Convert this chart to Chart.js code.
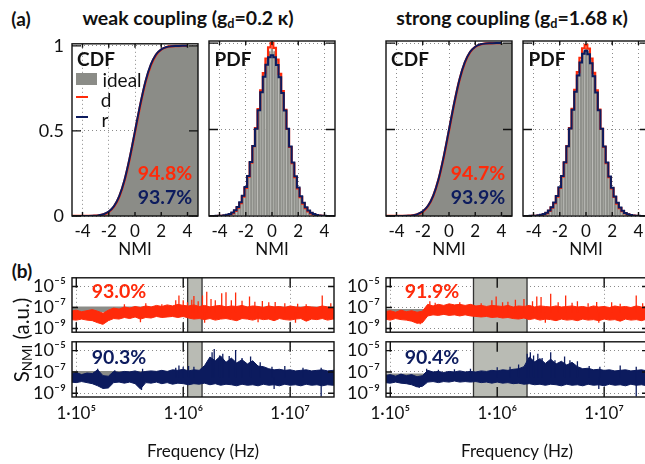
<!DOCTYPE html>
<html>
<head>
<meta charset="utf-8">
<script src="https://cdn.jsdelivr.net/npm/chart.js@4.4.1/dist/chart.umd.min.js"></script>
<style>
  html, body { margin: 0; padding: 0; background: #fff; overflow: hidden; }
  body { width: 645px; height: 464px; position: relative; font-family: Lato, 'Noto Sans', sans-serif; color: #111; }
  canvas { position: absolute; }
  .c { position: absolute; white-space: nowrap; line-height: 1; transform: translate(-50%, -50%); }
  .b { font-weight: bold; }
  .red { color: #ff2a0a; }
  .navy { color: #0c1b5e; }
  sub { font-size: 65%; vertical-align: -0.25em; line-height: 0; }
  .key { position: absolute; }
</style>
</head>
<body>
<div class="c b" style="left:21px;top:18px;font-size:19px">(a)</div>
<div class="c b" style="left:188px;top:18px;font-size:19.5px">weak coupling (g<sub>d</sub>=0.2 κ)</div>
<div class="c b" style="left:512px;top:18px;font-size:19.5px">strong coupling (g<sub>d</sub>=1.68 κ)</div>
<div class="c b" style="left:22px;top:270px;font-size:19px">(b)</div>

<canvas id="cdfW"></canvas>
<canvas id="pdfW"></canvas>
<canvas id="cdfS"></canvas>
<canvas id="pdfS"></canvas>
<canvas id="specDW"></canvas>
<canvas id="specRW"></canvas>
<canvas id="specDS"></canvas>
<canvas id="specRS"></canvas>

<div class="c b" style="left:96px;top:58px;font-size:19px">CDF</div>
<div class="c b" style="left:233px;top:58px;font-size:19px">PDF</div>
<div class="c b" style="left:410px;top:58px;font-size:19px">CDF</div>
<div class="c b" style="left:547px;top:58px;font-size:19px">PDF</div>

<div class="key" style="left:76px;top:73px;width:21px;height:12px;background:#8b8c87"></div>
<div class="c" style="left:122px;top:79px;font-size:19px">ideal</div>
<div class="key" style="left:76px;top:96px;width:12px;height:2px;background:#ff2a0a"></div>
<div class="c" style="left:106px;top:99px;font-size:19px">d</div>
<div class="key" style="left:76px;top:116px;width:12px;height:2px;background:#0c1b5e"></div>
<div class="c" style="left:105px;top:119px;font-size:19px">r</div>

<div class="c b red" style="left:165px;top:173px;font-size:19.5px">94.8%</div>
<div class="c b navy" style="left:165px;top:197px;font-size:19.5px">93.7%</div>
<div class="c b red" style="left:478px;top:173px;font-size:19.5px">94.7%</div>
<div class="c b navy" style="left:478px;top:197px;font-size:19.5px">93.9%</div>

<div class="c b red" style="left:119px;top:291px;font-size:19.5px">93.0%</div>
<div class="c b navy" style="left:119px;top:357px;font-size:19.5px">90.3%</div>
<div class="c b red" style="left:432px;top:291px;font-size:19.5px">91.9%</div>
<div class="c b navy" style="left:432px;top:357px;font-size:19.5px">90.4%</div>

<div class="c" style="left:21px;top:340px;font-size:20.5px;transform:translate(-50%,-50%) rotate(-90deg)">S<sub>NMI</sub> (a.u.)</div>

<script>
// ---------- data: NMI distributions ----------
const nmiX = [-4.8, -4.4, -4.0, -3.6, -3.2, -2.8, -2.4, -2.0, -1.6, -1.2, -0.8, -0.4, 0,
  0.4, 0.8, 1.2, 1.6, 2.0, 2.4, 2.8, 3.2, 3.6, 4.0, 4.4, 4.8];
const cdfIdeal = [0, 0, 0, 0.0002, 0.0007, 0.0026, 0.008, 0.023, 0.055, 0.115, 0.212, 0.345, 0.5,
  0.655, 0.788, 0.885, 0.945, 0.977, 0.992, 0.997, 0.999, 1, 1, 1, 1];
const cdfDW = [0, 0, 0, 0.0003, 0.0009, 0.003, 0.009, 0.024, 0.055, 0.113, 0.207, 0.338, 0.493,
  0.650, 0.786, 0.884, 0.946, 0.978, 0.993, 0.998, 0.999, 1, 1];
const cdfRW = [0, 0, 0.0001, 0.0004, 0.0012, 0.0035, 0.010, 0.026, 0.058, 0.117, 0.212, 0.344, 0.499,
  0.656, 0.792, 0.889, 0.949, 0.979, 0.993, 0.998, 0.999, 1, 1];
const cdfDS = [0, 0, 0, 0.0003, 0.0010, 0.0032, 0.010, 0.025, 0.057, 0.116, 0.210, 0.340, 0.494,
  0.651, 0.787, 0.885, 0.946, 0.978, 0.992, 0.998, 0.999, 1, 1];
const cdfRS = [0, 0, 0.0001, 0.0004, 0.0013, 0.0036, 0.011, 0.027, 0.059, 0.118, 0.213, 0.345, 0.499,
  0.655, 0.790, 0.888, 0.948, 0.979, 0.993, 0.998, 0.999, 1, 1];

const pdfX = [-4.8, -4.6, -4.4, -4.2, -4.0, -3.8, -3.6, -3.4, -3.2, -3.0, -2.8, -2.6, -2.4, -2.2, -2.0,
  -1.8, -1.6, -1.4, -1.2, -1.0, -0.8, -0.6, -0.4, -0.2, 0, 0.2, 0.4, 0.6, 0.8, 1.0, 1.2, 1.4, 1.6, 1.8,
  2.0, 2.2, 2.4, 2.6, 2.8, 3.0, 3.2, 3.4, 3.6, 3.8, 4.0, 4.2, 4.4, 4.6, 4.8];
const pdfIdeal = [0, 0, 0, 0, 0.001, 0.001, 0.003, 0.005, 0.010, 0.016, 0.028, 0.046, 0.071, 0.108, 0.158,
  0.223, 0.304, 0.399, 0.504, 0.616, 0.726, 0.824, 0.902, 0.953, 0.97, 0.953, 0.902, 0.824, 0.726, 0.616,
  0.504, 0.399, 0.304, 0.223, 0.158, 0.108, 0.071, 0.046, 0.028, 0.016, 0.010, 0.005, 0.003, 0.001, 0.001,
  0, 0, 0, 0];
const pdfDW = [0, 0, 0, 0, 0.001, 0.001, 0.003, 0.005, 0.010, 0.017, 0.030, 0.049, 0.075, 0.112, 0.162,
  0.228, 0.309, 0.404, 0.508, 0.618, 0.726, 0.826, 0.910, 0.975, 1.0, 0.972, 0.905, 0.822, 0.723, 0.614,
  0.503, 0.399, 0.305, 0.224, 0.159, 0.109, 0.071, 0.045, 0.027, 0.015, 0.009, 0.005, 0.002, 0.001, 0,
  0, 0, 0, 0];
const pdfRW = [0, 0, 0, 0.001, 0.001, 0.002, 0.004, 0.007, 0.012, 0.020, 0.033, 0.052, 0.079, 0.117, 0.167,
  0.232, 0.312, 0.405, 0.505, 0.612, 0.715, 0.805, 0.875, 0.918, 0.93, 0.918, 0.873, 0.802, 0.712, 0.610,
  0.504, 0.402, 0.310, 0.230, 0.165, 0.114, 0.077, 0.050, 0.032, 0.019, 0.011, 0.006, 0.003, 0.002, 0.001,
  0, 0, 0, 0];
const pdfDS = [0, 0, 0, 0, 0.001, 0.001, 0.003, 0.005, 0.010, 0.017, 0.030, 0.049, 0.075, 0.112, 0.162,
  0.228, 0.309, 0.404, 0.508, 0.620, 0.730, 0.832, 0.915, 0.970, 0.99, 0.968, 0.910, 0.828, 0.726, 0.615,
  0.504, 0.400, 0.306, 0.225, 0.160, 0.110, 0.072, 0.046, 0.028, 0.016, 0.009, 0.005, 0.002, 0.001, 0,
  0, 0, 0, 0];
const pdfRS = [0, 0, 0, 0.001, 0.001, 0.002, 0.004, 0.007, 0.012, 0.019, 0.032, 0.051, 0.078, 0.116, 0.166,
  0.231, 0.311, 0.404, 0.506, 0.614, 0.718, 0.812, 0.888, 0.938, 0.955, 0.936, 0.884, 0.808, 0.714, 0.611,
  0.505, 0.402, 0.309, 0.229, 0.164, 0.113, 0.076, 0.049, 0.031, 0.018, 0.010, 0.006, 0.003, 0.002, 0.001,
  0, 0, 0, 0];

const nmiTicks = [-4, -2, 0, 2, 4];
const nmiTickLabels = ['-4', '-2', '0', '2', '4'];
const probTicks = [0, 0.5, 1];
const probTickLabels = ['0', '0.5', '1'];

// ---------- data: noise spectra (log10 of S_NMI, on a log10 frequency grid) ----------
const fExp = [4.95, 5.00, 5.05, 5.10, 5.15, 5.20, 5.25, 5.30, 5.35, 5.40, 5.45, 5.50, 5.55, 5.60, 5.65,
  5.70, 5.75, 5.80, 5.85, 5.90, 5.95, 6.00, 6.05, 6.10, 6.15, 6.20, 6.25, 6.30, 6.35, 6.40, 6.45, 6.50,
  6.55, 6.60, 6.65, 6.70, 6.75, 6.80, 6.85, 6.90, 6.95, 7.00, 7.05, 7.10, 7.15, 7.20, 7.25, 7.30, 7.35,
  7.40, 7.45];

// weak coupling, d (red): upper / lower edge of the noise band
const dHiW = [-7.35, -7.25, -7.40, -7.30, -7.20, -7.35, -7.55, -7.25, -7.05, -7.15,
  -6.95, -7.05, -6.90, -7.00, -6.85, -6.95, -6.80, -6.90, -6.75, -6.85,
  -6.70, -6.80, -6.85, -6.75, -6.90, -6.80, -6.95, -6.85, -6.80, -6.95,
  -6.85, -6.90, -6.80, -6.95, -6.85, -6.90, -7.00, -6.85, -6.95, -6.90,
  -7.00, -6.85, -6.95, -7.00, -6.90, -6.95, -7.00, -6.85, -6.95, -7.00, -6.90];
const dLoW = [-8.15, -8.20, -8.10, -8.20, -8.25, -8.45, -8.60, -8.25, -8.05, -8.10,
  -7.95, -8.05, -7.90, -8.10, -7.95, -8.00, -7.85, -7.95, -7.90, -7.85,
  -7.95, -7.85, -8.00, -8.10, -8.05, -8.15, -8.05, -8.20, -8.10, -8.05,
  -8.15, -8.25, -8.05, -8.10, -8.20, -8.05, -8.15, -8.10, -8.25, -8.05,
  -8.15, -8.20, -8.10, -8.05, -8.30, -8.10, -8.15, -8.05, -8.20, -8.10, -8.15];
// weak coupling, r (navy)
const rHiW = [-7.20, -7.05, -7.25, -7.10, -7.15, -6.80, -7.35, -7.40, -6.95, -7.05,
  -6.95, -7.00, -6.90, -7.05, -6.95, -6.90, -6.95, -6.85, -6.95, -6.80,
  -6.85, -6.75, -6.90, -6.80, -6.85, -6.40, -5.60, -5.95, -5.50, -6.10,
  -5.70, -6.15, -5.85, -6.25, -5.95, -6.45, -6.50, -6.70, -6.80, -6.75,
  -6.85, -6.80, -6.90, -6.85, -6.80, -6.90, -6.85, -6.80, -6.90, -6.85, -6.80];
const rLoW = [-7.95, -8.00, -7.90, -8.00, -8.10, -8.30, -8.55, -8.50, -8.00, -7.95,
  -8.05, -7.95, -8.10, -8.60, -8.00, -8.05, -7.95, -8.10, -8.00, -8.15,
  -8.05, -8.10, -8.20, -8.10, -8.15, -8.05, -8.20, -8.10, -8.25, -8.15,
  -8.20, -8.30, -8.15, -8.25, -8.20, -8.30, -8.15, -8.25, -8.20, -8.30,
  -8.15, -8.25, -8.20, -8.30, -8.15, -8.25, -8.20, -8.30, -8.20, -8.25, -8.15];
// strong coupling, d (red)
const dHiS = [-7.40, -7.30, -7.45, -7.25, -7.40, -7.30, -7.45, -7.35, -6.70, -6.85,
  -6.70, -6.80, -6.65, -6.75, -6.70, -6.80, -6.70, -6.85, -6.80, -6.90,
  -6.80, -6.85, -6.90, -6.80, -6.95, -6.85, -6.90, -6.80, -6.95, -6.85,
  -6.90, -6.95, -6.85, -6.95, -6.90, -6.85, -6.95, -6.90, -7.00, -6.85,
  -6.95, -6.90, -7.00, -6.85, -6.95, -6.90, -7.00, -6.85, -6.95, -6.90, -6.95];
const dLoS = [-8.10, -8.20, -8.05, -8.15, -8.20, -8.30, -8.50, -8.45, -7.80, -7.70,
  -7.75, -7.65, -7.75, -7.70, -7.80, -7.70, -7.80, -7.85, -7.90, -7.85,
  -7.95, -7.90, -8.00, -7.95, -8.05, -8.10, -8.00, -8.15, -8.05, -8.20,
  -8.10, -8.15, -8.25, -8.10, -8.20, -8.15, -8.25, -8.10, -8.20, -8.15,
  -8.25, -8.10, -8.20, -8.15, -8.30, -8.10, -8.20, -8.15, -8.25, -8.10, -8.20];
// strong coupling, r (navy)
const rHiS = [-7.35, -7.25, -7.40, -7.20, -7.35, -7.25, -7.45, -7.35, -6.85, -7.00,
  -6.95, -7.05, -6.95, -7.00, -6.90, -7.00, -6.95, -7.00, -6.90, -6.95,
  -6.85, -6.90, -6.80, -6.85, -6.75, -6.70, -6.50, -5.60, -6.05, -5.75,
  -6.20, -5.80, -6.25, -6.00, -6.35, -6.10, -6.50, -6.70, -6.65, -6.80,
  -6.75, -6.85, -6.80, -6.90, -6.85, -6.80, -6.90, -6.85, -6.80, -6.90, -6.85];
const rLoS = [-8.00, -8.05, -7.95, -8.05, -8.10, -8.20, -8.40, -8.35, -7.95, -7.90,
  -8.00, -7.90, -7.95, -7.85, -7.95, -7.90, -7.95, -7.90, -8.00, -7.95,
  -8.05, -7.95, -8.05, -8.00, -8.10, -8.05, -8.15, -8.10, -8.20, -8.15,
  -8.25, -8.15, -8.20, -8.30, -8.15, -8.25, -8.20, -8.30, -8.15, -8.25,
  -8.20, -8.30, -8.15, -8.25, -8.20, -8.30, -8.15, -8.25, -8.20, -8.30, -8.20];

// narrow peaks / dips: [log10 f, log10 S] drawn from spikeBase
const spikeBase = -7.5;
const dSpikesW = [[5.45, -6.7], [5.65, -6.6], [5.80, -6.7], [5.93, -6.3], [5.96, -5.86], [6.00, -6.3],
  [6.04, -6.5], [6.08, -6.26], [6.10, -5.9], [6.14, -6.4], [6.18, -5.86], [6.22, -5.5], [6.26, -6.2],
  [6.30, -6.3], [6.36, -5.65], [6.40, -5.55], [6.45, -6.3], [6.49, -5.56], [6.55, -6.35], [6.62, -5.95],
  [6.67, -6.45], [6.74, -6.39], [6.80, -6.5], [6.86, -6.48], [6.95, -6.6], [7.07, -6.63], [7.15, -6.7],
  [7.30, -5.86], [7.38, -6.6], [5.24, -8.6], [5.60, -8.4], [6.20, -8.45], [6.70, -8.4], [7.05, -8.45]];
const rSpikesW = [[5.20, -6.7], [5.36, -6.85], [5.62, -6.7], [5.61, -8.7], [5.93, -6.6], [5.96, -6.4],
  [6.00, -6.5], [6.05, -6.45], [6.10, -6.5], [6.27, -5.15], [6.29, -4.85], [6.34, -5.46], [6.37, -5.3],
  [6.43, -5.5], [6.49, -4.93], [6.55, -5.7], [6.63, -5.55], [6.72, -6.1], [6.83, -6.5], [6.85, -8.6],
  [6.95, -6.45], [7.12, -6.6], [7.29, -6.6], [7.29, -9.3]];
const dSpikesS = [[5.28, -8.6], [5.37, -6.4], [5.42, -6.55], [5.65, -6.5], [5.85, -6.6], [5.95, -6.3],
  [5.99, -5.95], [6.05, -6.5], [6.10, -6.45], [6.17, -6.26], [6.25, -6.18], [6.33, -6.4], [6.37, -5.95],
  [6.41, -6.0], [6.50, -5.7], [6.57, -6.5], [6.64, -5.86], [6.70, -6.55], [6.75, -6.4], [6.85, -6.6],
  [6.93, -6.47], [7.07, -6.5], [7.15, -6.65], [7.30, -5.86], [7.36, -6.6], [6.45, -8.45], [6.95, -8.45]];
const rSpikesS = [[5.27, -8.5], [5.34, -6.7], [5.45, -6.8], [5.60, -6.75], [5.75, -6.7], [6.00, -6.55],
  [6.12, -6.5], [6.20, -6.3], [6.28, -5.3], [6.31, -5.15], [6.34, -5.46], [6.38, -5.3], [6.42, -5.7],
  [6.50, -5.15], [6.54, -5.9], [6.63, -5.55], [6.68, -5.9], [6.75, -6.0], [6.86, -6.45], [6.95, -8.6],
  [6.96, -6.5], [7.15, -6.4], [7.30, -6.5], [7.30, -9.3]];

// ideal spectrum band [upper, lower] (log10 S), shaded frequency window (Hz)
const idealBandW = [-6.9, -7.45];
const idealBandS = [-7.15, -7.7];
const shadeW = [1.1e6, 1.5e6];
const shadeS = [6.0e5, 1.9e6];

const freqTicks = [1e5, 1e6, 1e7];
const freqTickLabels = ['1·10⁵', '1·10⁶', '1·10⁷'];
const sTicks = [1e-9, 1e-7, 1e-5];
const sTickLabels = ['10⁻⁹', '10⁻⁷', '10⁻⁵'];

// ---------- style ----------
const RED = '#ff2a0a';
const NAVY = '#0c1b5e';
const GRAY = '#8b8c87';
const FONT = "Lato, 'Noto Sans', sans-serif";

Chart.defaults.font.family = FONT;
Chart.defaults.color = '#111';
Chart.defaults.animation = false;

// frame with inward tick marks, optional shaded frequency window
const framePlugin = {
  id: 'frame',
  beforeDatasetsDraw(chart, args, opts) {
    if (!opts.shade) return;
    const { ctx, chartArea: a, scales: { x } } = chart;
    const x0 = x.getPixelForValue(opts.shade[0]);
    const x1 = x.getPixelForValue(opts.shade[1]);
    ctx.save();
    ctx.fillStyle = '#b9bbb4';
    ctx.fillRect(x0, a.top, x1 - x0, a.bottom - a.top);
    ctx.strokeStyle = '#333';
    ctx.lineWidth = 1.3;
    ctx.beginPath();
    ctx.moveTo(x0, a.top); ctx.lineTo(x0, a.bottom);
    ctx.moveTo(x1, a.top); ctx.lineTo(x1, a.bottom);
    ctx.stroke();
    ctx.restore();
  },
  afterDatasetsDraw(chart, args, opts) {
    if (!opts.xt) return;
    const { ctx, chartArea: a, scales: { x, y } } = chart;
    ctx.save();
    ctx.strokeStyle = '#111';
    ctx.lineWidth = 1.4;
    ctx.beginPath();
    opts.xt.forEach(v => {
      const p = x.getPixelForValue(v);
      ctx.moveTo(p, a.bottom); ctx.lineTo(p, a.bottom - opts.xl);
      ctx.moveTo(p, a.top); ctx.lineTo(p, a.top + opts.xl);
    });
    opts.yt.forEach(v => {
      const p = y.getPixelForValue(v);
      ctx.moveTo(a.left, p); ctx.lineTo(a.left + opts.yl, p);
      ctx.moveTo(a.right, p); ctx.lineTo(a.right - opts.yl, p);
    });
    ctx.stroke();
    ctx.strokeRect(a.left, a.top, a.right - a.left, a.bottom - a.top);
    ctx.restore();
  }
};
Chart.register(framePlugin);

// generous padding so tick labels never push the chart area
const PAD = 16;
function place(id, area, yW, xH) {
  const c = document.getElementById(id);
  const w = area.r - area.l + yW + 2 * PAD;
  const h = area.b - area.t + xH + 2 * PAD;
  c.width = w; c.height = h;
  c.style.width = w + 'px'; c.style.height = h + 'px';
  c.style.left = (area.l - yW - PAD) + 'px';
  c.style.top = (area.t - PAD) + 'px';
  return c;
}

function axis(opts) {
  return {
    type: opts.type, min: opts.min, max: opts.max, offset: false,
    afterBuildTicks: s => { s.ticks = opts.ticks.map(v => ({ value: v })); },
    afterFit: s => { if (opts.isX) s.height = opts.size; else s.width = opts.size; },
    ticks: {
      display: !!opts.labels, autoSkip: false, maxRotation: 0,
      padding: opts.pad || 4, font: { size: opts.fs || 17 }, color: '#111',
      callback: (v, i) => opts.labels ? opts.labels[i] : ''
    },
    grid: { color: '#8a8a8a', lineWidth: 1, drawTicks: false, offset: false },
    border: { display: false, dash: [1, 3] },
    title: opts.title ? { display: true, text: opts.title, font: { size: 17 }, color: '#111', padding: 4 } : { display: false }
  };
}

function distChart(id, area, kind, ideal, d, r, withY) {
  const yW = withY ? 50 : 2;
  const canvas = place(id, area, yW, 48);
  const datasets = [];
  if (kind === 'cdf') {
    datasets.push({ type: 'line', data: ideal.map((v, i) => ({ x: nmiX[i], y: v })), fill: 'origin',
      backgroundColor: GRAY, borderColor: GRAY, borderWidth: 0, pointRadius: 0, cubicInterpolationMode: 'monotone', order: 3 });
    datasets.push({ type: 'line', data: d.map((v, i) => ({ x: nmiX[i], y: v })), borderColor: RED,
      borderWidth: 2.4, pointRadius: 0, fill: false, cubicInterpolationMode: 'monotone', order: 2 });
    datasets.push({ type: 'line', data: r.map((v, i) => ({ x: nmiX[i], y: v })), borderColor: NAVY,
      borderWidth: 2, pointRadius: 0, fill: false, cubicInterpolationMode: 'monotone', order: 1 });
  } else {
    datasets.push({ type: 'bar', data: ideal.map((v, i) => ({ x: pdfX[i], y: v })), backgroundColor: '#8f908b',
      borderColor: '#b3b4af', borderWidth: { left: 0.8, right: 0, top: 0, bottom: 0 },
      barPercentage: 1, categoryPercentage: 1, order: 3 });
    datasets.push({ type: 'line', data: d.map((v, i) => ({ x: pdfX[i], y: v })), borderColor: RED,
      borderWidth: 2.2, pointRadius: 0, fill: false, stepped: 'middle', order: 2 });
    datasets.push({ type: 'line', data: r.map((v, i) => ({ x: pdfX[i], y: v })), borderColor: NAVY,
      borderWidth: 2, pointRadius: 0, fill: false, stepped: 'middle', order: 1 });
  }
  return new Chart(canvas, {
    type: 'line',
    data: { datasets },
    options: {
      responsive: false, maintainAspectRatio: false,
      layout: { padding: PAD },
      plugins: { legend: { display: false }, tooltip: { enabled: false },
        frame: { xt: nmiTicks, yt: probTicks, xl: 4, yl: 9 } },
      scales: {
        x: axis({ type: 'linear', isX: true, min: -4.8, max: 4.8, ticks: nmiTicks, labels: nmiTickLabels, size: 48, pad: 5, title: 'NMI' }),
        y: axis({ type: 'linear', min: 0, max: 1.012, ticks: probTicks, labels: withY ? probTickLabels : null, size: yW, pad: 8, fs: 18 })
      }
    }
  });
}

const pow = e => Math.pow(10, e);
function specChart(id, area, color, hi, lo, spikes, ideal, shade, bottom) {
  const yW = 60, xH = bottom ? 69 : 0;
  const canvas = place(id, area, yW, xH);
  const band = arr => fExp.map((e, i) => ({ x: pow(e), y: pow(arr[i]) }));
  const flat = v => [fExp[0], fExp[fExp.length - 1]].map(e => ({ x: pow(e), y: pow(v) }));
  const spk = [];
  spikes.forEach(([e, v]) => {
    spk.push({ x: pow(e), y: pow(spikeBase) }, { x: pow(e), y: pow(v) }, { x: pow(e), y: null });
  });
  const datasets = [
    { data: flat(ideal[0]), borderColor: GRAY, backgroundColor: GRAY, borderWidth: 0, pointRadius: 0, fill: '+1', order: 4 },
    { data: flat(ideal[1]), borderColor: GRAY, borderWidth: 0, pointRadius: 0, fill: false, order: 4 },
    { data: band(hi), borderColor: color, backgroundColor: color, borderWidth: 1, pointRadius: 0, fill: '+1', order: 2 },
    { data: band(lo), borderColor: color, borderWidth: 1, pointRadius: 0, fill: false, order: 2 },
    { data: spk, borderColor: color, borderWidth: 1.3, pointRadius: 0, fill: false, spanGaps: false, order: 1 }
  ];
  return new Chart(canvas, {
    type: 'line',
    data: { datasets },
    options: {
      responsive: false, maintainAspectRatio: false,
      layout: { padding: PAD },
      plugins: { legend: { display: false }, tooltip: { enabled: false },
        frame: { xt: freqTicks, yt: sTicks, xl: 10, yl: 6, shade } },
      scales: {
        x: axis({ type: 'logarithmic', isX: true, min: pow(4.96), max: pow(7.41), ticks: freqTicks,
          labels: bottom ? freqTickLabels : null, size: xH, pad: 6, title: bottom ? 'Frequency (Hz)' : null }),
        y: axis({ type: 'logarithmic', min: pow(-9.35), max: pow(-4.17), ticks: sTicks, labels: sTickLabels, size: yW, pad: 6, fs: 18 })
      }
    }
  });
}

// ---------- layout (chart areas in page pixels) ----------
const topRow = { t: 41, b: 216 };
distChart('cdfW', { l: 72, r: 198, ...topRow }, 'cdf', cdfIdeal, cdfDW, cdfRW, true);
distChart('pdfW', { l: 209, r: 335, ...topRow }, 'pdf', pdfIdeal, pdfDW, pdfRW, false);
distChart('cdfS', { l: 386, r: 512, ...topRow }, 'cdf', cdfIdeal, cdfDS, cdfRS, false);
distChart('pdfS', { l: 523, r: 649, ...topRow }, 'pdf', pdfIdeal, pdfDS, pdfRS, false);

const upRow = { t: 277, b: 333 };
const lowRow = { t: 341, b: 397 };
specChart('specDW', { l: 72, r: 334, ...upRow }, RED, dHiW, dLoW, dSpikesW, idealBandW, shadeW, false);
specChart('specRW', { l: 72, r: 334, ...lowRow }, NAVY, rHiW, rLoW, rSpikesW, idealBandW, shadeW, true);
specChart('specDS', { l: 386, r: 648, ...upRow }, RED, dHiS, dLoS, dSpikesS, idealBandS, shadeS, false);
specChart('specRS', { l: 386, r: 648, ...lowRow }, NAVY, rHiS, rLoS, rSpikesS, idealBandS, shadeS, true);
</script>
</body>
</html>
